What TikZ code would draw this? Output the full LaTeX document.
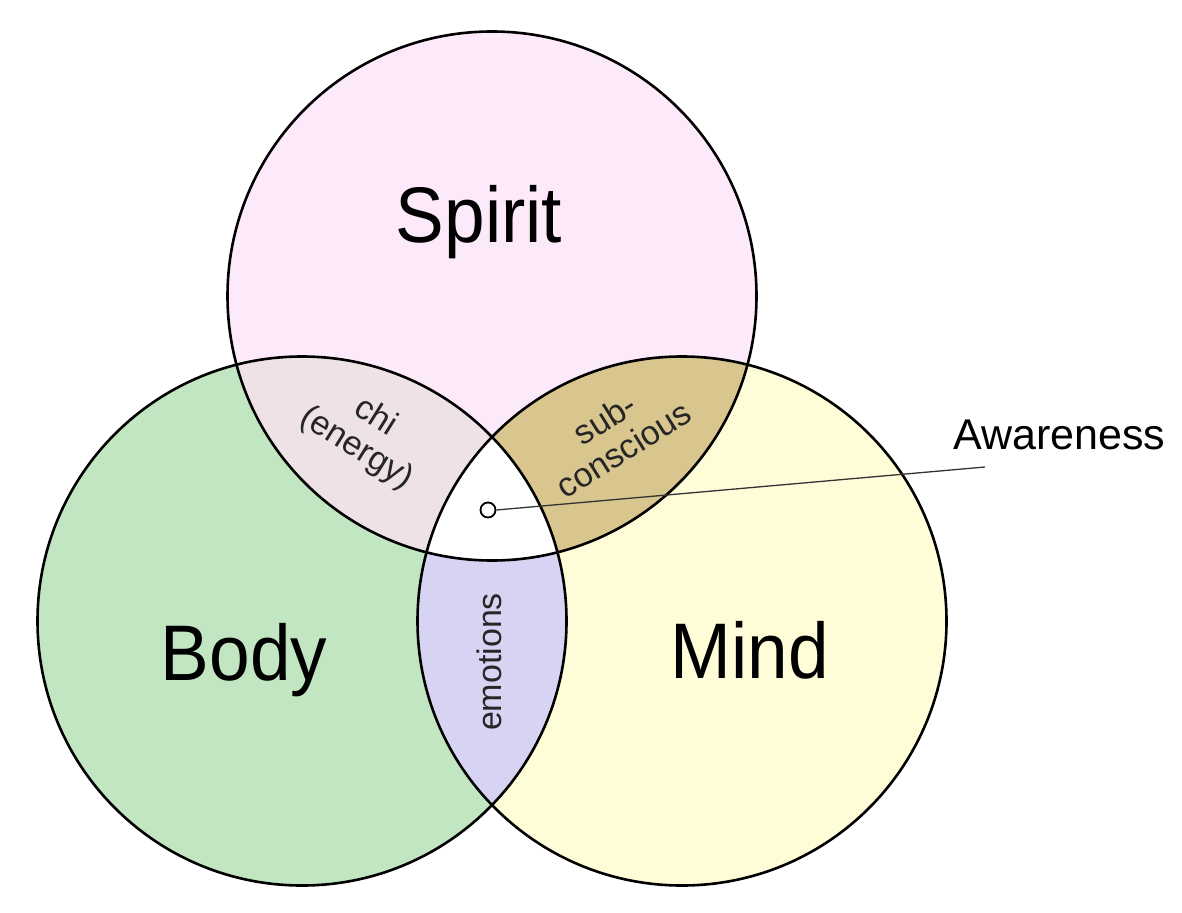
\documentclass[tikz,border=0pt]{standalone}
\usepackage{fontspec}
\setmainfont{Liberation Sans}
\definecolor{spiritc}{HTML}{FCEAFB}
\definecolor{bodyc}{HTML}{C2E6C2}
\definecolor{mindc}{HTML}{FFFDD8}
\definecolor{chic}{HTML}{EEE2E6}
\definecolor{subc}{HTML}{D9C68F}
\definecolor{emoc}{HTML}{D6D4F2}
\tikzset{
  ring/.style={draw=black, line width=2.6pt},
  bigtxt/.style={font=\fontsize{73}{80}\selectfont, yscale=1.08, inner sep=0pt},
  smalltxt/.style={font=\fontsize{34}{36}\selectfont, align=center, inner sep=0pt, text=black!85},
  leader/.style={draw=black!80, line width=1.3pt}
}
\begin{document}
\begin{tikzpicture}[x=1pt,y=-1pt]
\useasboundingbox (0,0) rectangle (1182,912);
\def\R{264.5}
\coordinate (S) at (492,296);
\coordinate (B) at (302,621);
\coordinate (M) at (682,621);
% base fills
\fill[spiritc] (S) circle (\R);
\fill[bodyc] (B) circle (\R);
\fill[mindc] (M) circle (\R);
% pairwise intersections
\begin{scope}\clip (S) circle (\R); \fill[chic] (B) circle (\R); \end{scope}
\begin{scope}\clip (S) circle (\R); \fill[subc] (M) circle (\R); \end{scope}
\begin{scope}\clip (B) circle (\R); \fill[emoc] (M) circle (\R); \end{scope}
% triple intersection
\begin{scope}\clip (S) circle (\R); \clip (B) circle (\R); \fill[white] (M) circle (\R); \end{scope}
% outlines
\draw[ring] (S) circle (\R);
\draw[ring] (B) circle (\R);
\draw[ring] (M) circle (\R);
% labels
\node[bigtxt] (spirit) at (479,222) {Spirit};
\node[bigtxt] (body) at (244,660) {Body};
\node[bigtxt] (mind) at (750,650) {Mind};
\node[smalltxt, rotate=-32] (chi) at (366,433) {chi\\(energy)};
\node[smalltxt, rotate=32] (sub) at (614,434) {sub-\\conscious};
\node[smalltxt, rotate=90] (emo) at (489,662) {emotions};
% awareness
\node[circle, draw=black, line width=1.8pt, fill=white, minimum size=15pt, inner sep=0pt] (aw) at (488,510) {};
\coordinate (awend) at (985,467);
\draw[leader] (aw.east) -- (awend);
\node[font=\fontsize{43}{46}\selectfont, inner sep=0pt, anchor=west] (awlabel) at (953,435) {Awareness};
\end{tikzpicture}
\end{document}
